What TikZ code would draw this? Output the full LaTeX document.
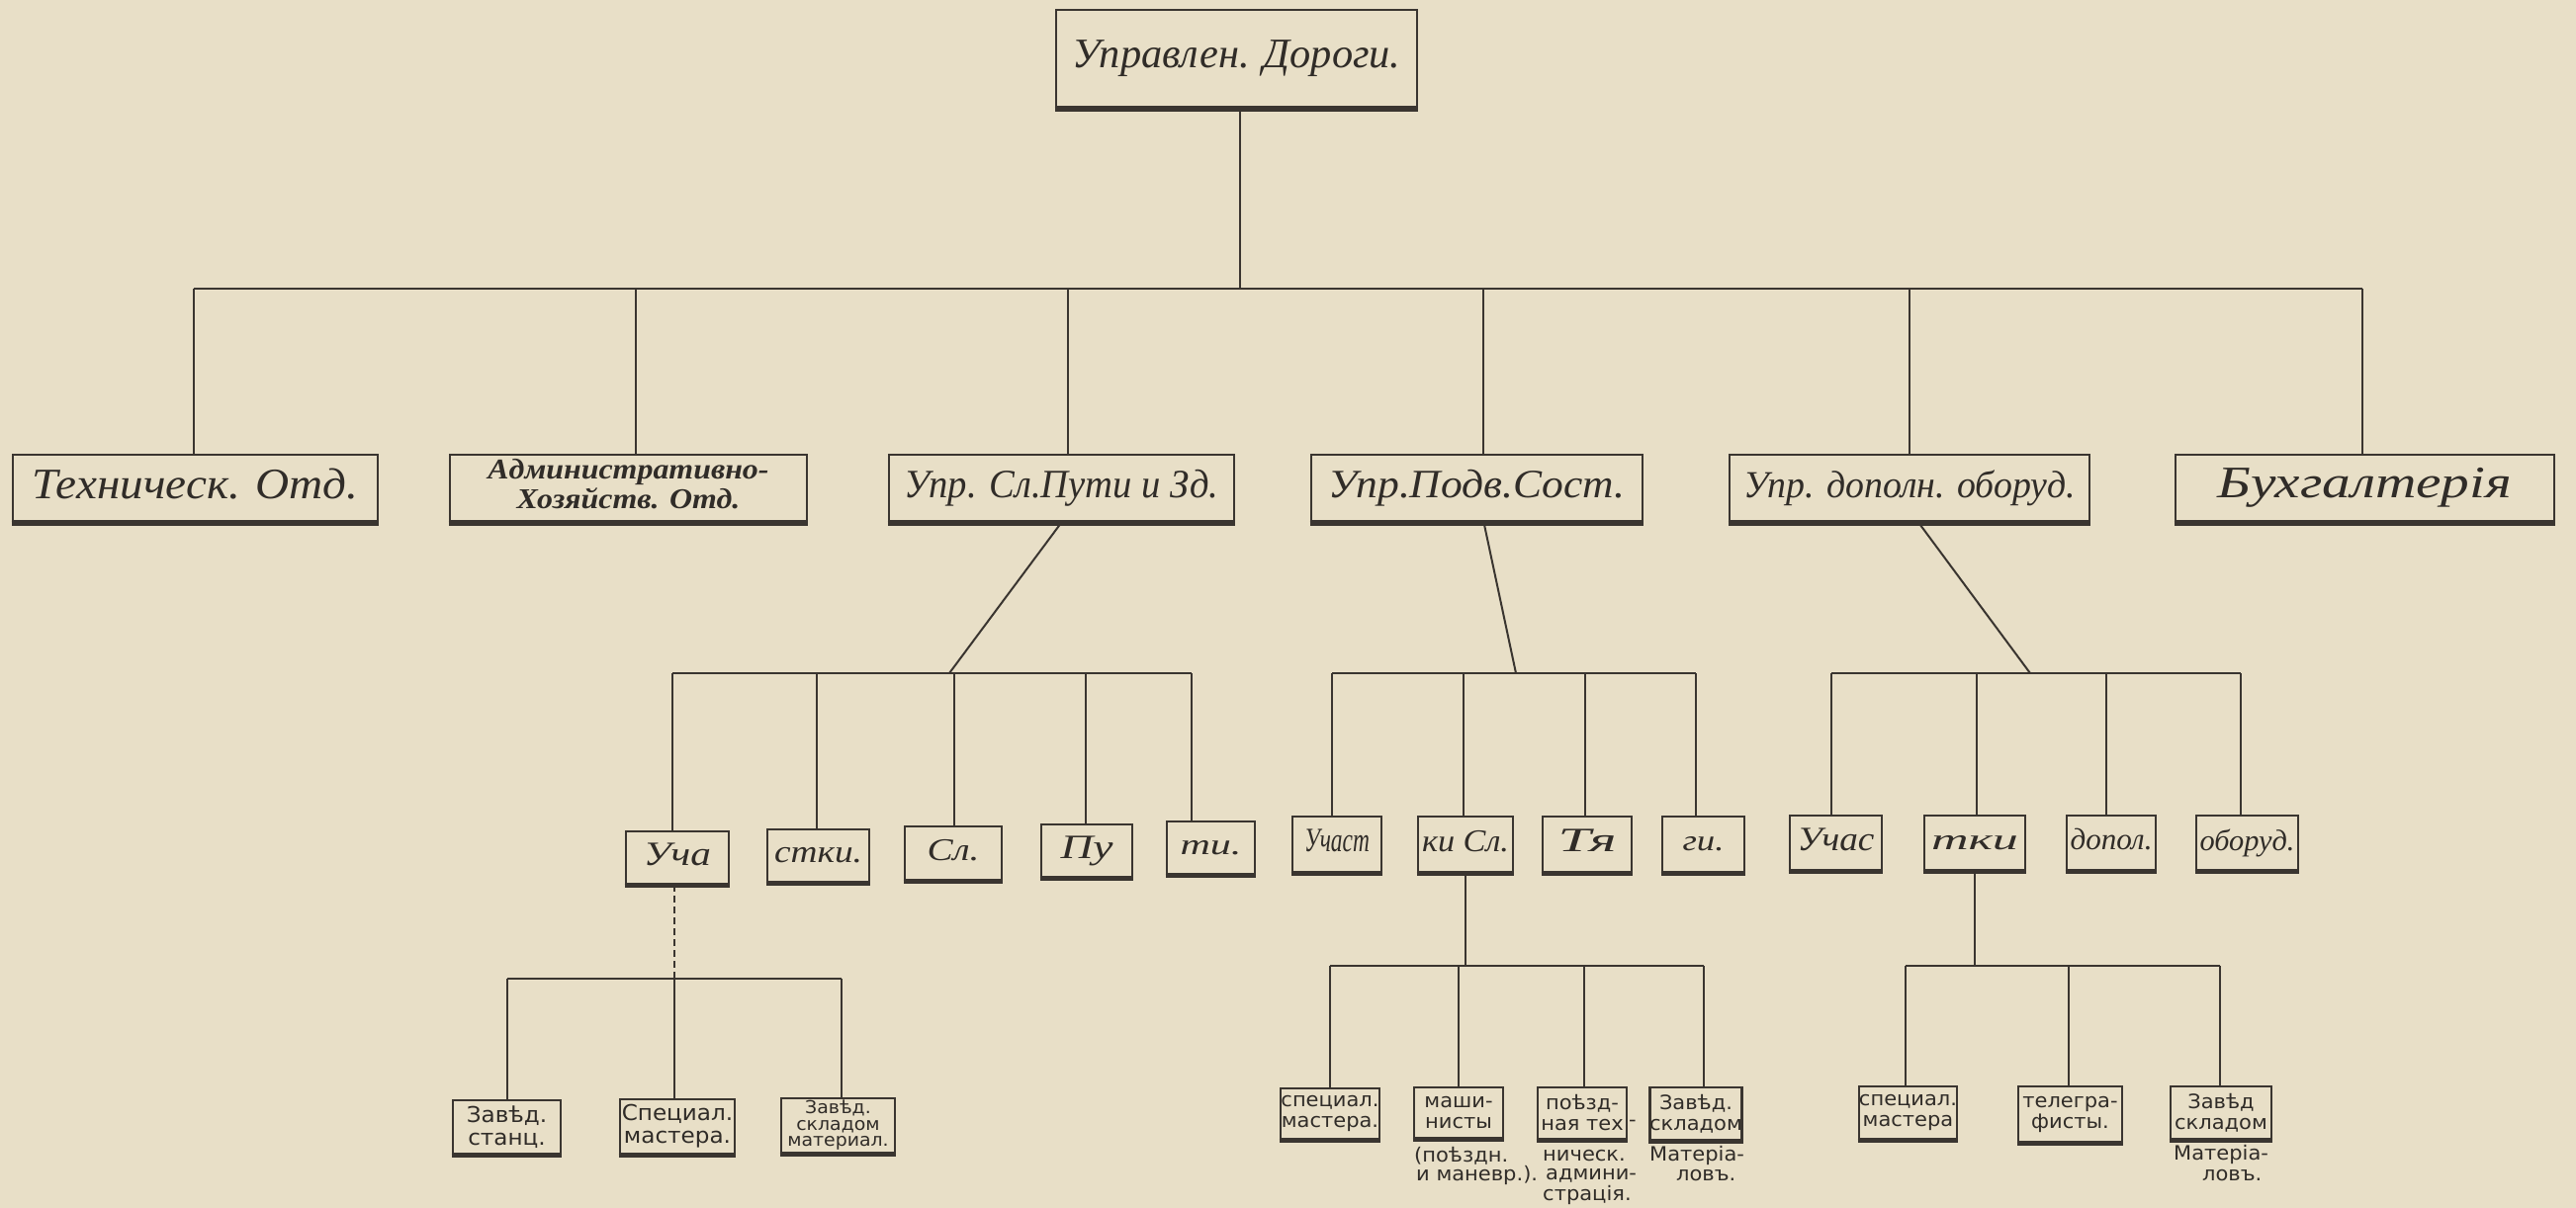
\documentclass[tikz,border=0pt]{standalone}
\usepackage{fontspec}
\usepackage{graphicx}
\setmainfont{Liberation Serif}
\newfontfamily\curs{Liberation Serif}
\newfontfamily\blk{DejaVu Sans}[FakeStretch=1.05]
\definecolor{paper}{RGB}{232,223,199}
\definecolor{ink}{RGB}{58,53,48}
\definecolor{txt}{RGB}{48,44,40}
\newcommand\fitt[3]{\resizebox*{#1pt}{#2pt}{\curs\itshape\vphantom{Ду}#3}}
\begin{document}
\begin{tikzpicture}[x=1pt,y=-1pt,
  box/.style={draw=ink, line width=2.8pt, inner sep=0pt, text=txt},
  sz/.style 2 args={minimum width=#1pt, minimum height=#2pt},
  conn/.style={draw=ink, line width=2.4pt},
  thin/.style={draw=ink, line width=2pt},
  lbl/.style={font=\blk\fontsize{20}{21}\selectfont, align=center},
  lblA/.style={font=\blk\fontsize{22}{23}\selectfont, align=center},
  note/.style={font=\blk\fontsize{20}{20}\selectfont, text=txt, anchor=west, inner sep=0pt}]
\useasboundingbox (0,0) rectangle (2605,1222);
\fill[paper] (0,0) rectangle (2605,1222);

% top
\node[box, sz={365}{98}] (T) at (1250.5,59) {\fitt{332}{37}{Управлен. Дороги.}};

% level 1
\node[box, sz={369}{67}] (L1) at (197.5,493.5) {\fitt{330}{40}{Техническ. Отд.}};
\node[box, sz={361}{67}] (L2) at (635.5,493.5) {\scalebox{1.1}[1]{\curs\bfseries\itshape\fontsize{29}{28}\selectfont\begin{tabular}{@{}c@{}}Административно-\\Хозяйств. Отд.\end{tabular}}};
\node[box, sz={349}{67}] (L3) at (1073.5,493.5) {\fitt{318}{37}{Упр. Сл.Пути и Зд.}};
\node[box, sz={335}{67}] (L4) at (1493.5,493.5) {\fitt{300}{37}{Упр.Подв.Сост.}};
\node[box, sz={364}{67}] (L5) at (1931,493.5) {\fitt{336}{36}{Упр. дополн. оборуд.}};
\node[box, sz={383}{67}] (L6) at (2391.5,493.5) {\fitt{297}{40}{Бухгалтерія}\hspace{40pt}};

% level 2
\node[box, sz={104}{53}] (a1) at (685,867.5) {\fitt{68}{30}{Уча}};
\node[box, sz={103}{53}] (a2) at (827.5,865.5) {\fitt{89}{28}{стки.}};
\node[box, sz={98}{54}] (a3) at (964,863) {\fitt{53}{28}{Сл.}};
\node[box, sz={92}{53}] (a4) at (1099,860.5) {\fitt{53}{30}{Пу}};
\node[box, sz={89}{53}] (a5) at (1224.5,857.5) {\fitt{62}{26}{ти.}};
\node[box, sz={90}{56}] (b1) at (1352,854) {\fitt{66}{30}{Участ}};
\node[box, sz={96}{56}] (b2) at (1482,854) {\fitt{88}{28}{ки Сл.}};
\node[box, sz={90}{56}] (b3) at (1605,854) {\fitt{59}{30}{Тя}};
\node[box, sz={83}{56}] (b4) at (1722.5,854) {\fitt{42}{26}{ги.}};
\node[box, sz={93}{55}] (c1) at (1856.5,852.5) {\fitt{78}{30}{Учас}};
\node[box, sz={102}{55}] (c2) at (1997,852.5) {\fitt{88}{26}{тки}};
\node[box, sz={90}{55}] (c3) at (2135,852.5) {\fitt{83}{28}{допол.}};
\node[box, sz={103}{55}] (c4) at (2272.5,852.5) {\fitt{96}{28}{оборуд.}};

% level 3
\node[box, lblA, sz={109}{54}] (d1) at (512.5,1140) {Завѣд.\\станц.};
\node[box, lblA, sz={116}{55}] (d2) at (685,1139.5) {Специал.\\мастера.};
\node[box, sz={115}{55}, font=\blk\fontsize{18}{16.5}\selectfont, align=center] (d3) at (847.5,1138.5) {Завѣд.\\складом\\материал.};
\node[box, lbl, sz={100}{51}] (e1) at (1345,1126.5) {специал.\\мастера.};
\node[box, lbl, sz={90}{51}] (e2) at (1475,1125.5) {маши-\\нисты};
\node[box, lbl, sz={90}{52}] (e3) at (1600,1126) {поѣзд-\\ная тех};
\node[box, lbl, sz={90}{53}] (e4) at (1715,1126.5) {Завѣд.\\складом};
\node[box, lbl, sz={97}{53}] (f1) at (1929.5,1125.5) {специал.\\мастера};
\node[box, lbl, sz={105}{56}] (f2) at (2093.5,1127) {телегра-\\фисты.};
\node[box, lbl, sz={102}{53}] (f3) at (2246,1125.5) {Завѣд\\складом};
\node[note] (hy) at (1647,1136) {-};

% notes
\node[note] (m1) at (1430,1169) {(поѣздн.};
\node[note] (m2) at (1432,1189) {и маневр.).};
\node[note] (m3) at (1560,1169) {ническ.};
\node[note] (m4) at (1563,1189) {админи-};
\node[note] (m5) at (1560,1209) {страція.};
\node[note] (m6) at (1668,1169) {Матеріа-};
\node[note] (m7) at (1695,1189) {ловъ.};
\node[note] (m8) at (2198,1168) {Матеріа-};
\node[note] (m9) at (2227,1189) {ловъ.};

% thicker bottom edges
\foreach \n in {T,L1,L2,L3,L4,L5,L6}
  \draw[ink, line width=5pt] ([yshift=-1pt]\n.south west) -- ([yshift=-1pt]\n.south east);
\foreach \n in {a1,a2,a3,a4,a5,b1,b2,b3,b4,c1,c2,c3,c4,d1,d2,d3,e1,e2,e3,e4,f1,f2,f3}
  \draw[ink, line width=4pt] ([yshift=-0.5pt]\n.south west) -- ([yshift=-0.5pt]\n.south east);

% level 0 -> 1
\coordinate (bL) at (196,292);
\coordinate (bR) at (2389,292);
\coordinate (bT) at (1254,292);
\draw[conn] (T.south -| bT) -- (bT);
\draw[conn] (bL) -- (bR);
\foreach \x/\n in {196/L1,643/L2,1080/L3,1500/L4,1931/L5,2389/L6}{
  \coordinate (d\n) at (\x,292);
  \draw[conn] (d\n) -- (d\n |- \n.north);
}

% level 1 -> 2
\coordinate (jA) at (960,681);
\coordinate (jB) at (1533,681);
\coordinate (jC) at (2053,681);
\draw[thin] (L3.south) -- (jA);
\draw[thin] ([xshift=7pt]L4.south) -- (jB);
\draw[thin] ([xshift=9pt]L5.south) -- (jC);
\foreach \x/\n in {680/a1,826/a2,965/a3,1098/a4,1205/a5,1347/b1,1480/b2,1603/b3,1715/b4,1852/c1,1999/c2,2130/c3,2266/c4}{
  \coordinate (d\n) at (\x,681);
  \draw[thin] (d\n) -- (d\n |- \n.north);
}
\draw[thin] (da1) -- (da5);
\draw[thin] (db1) -- (db4);
\draw[thin] (dc1) -- (dc4);

% level 2 -> 3
\foreach \x/\n in {513/d1,682/d2,851/d3}{
  \coordinate (d\n) at (\x,990);
  \draw[thin] (d\n) -- (d\n |- \n.north);
}
\draw[thin] (dd1) -- (dd3);
\draw[thin, dash pattern=on 7pt off 4pt] (a1.south -| dd2) -- (dd2);
\foreach \x/\n in {1345/e1,1475/e2,1602/e3,1723/e4}{
  \coordinate (d\n) at (\x,977);
  \draw[thin] (d\n) -- (d\n |- \n.north);
}
\draw[thin] (de1) -- (de4);
\draw[thin] (b2.south) -- (b2.south |- de1);
\foreach \x/\n in {1927/f1,2092/f2,2245/f3}{
  \coordinate (d\n) at (\x,977);
  \draw[thin] (d\n) -- (d\n |- \n.north);
}
\draw[thin] (df1) -- (df3);
\draw[thin] (c2.south) -- (c2.south |- df1);
\end{tikzpicture}
\end{document}
